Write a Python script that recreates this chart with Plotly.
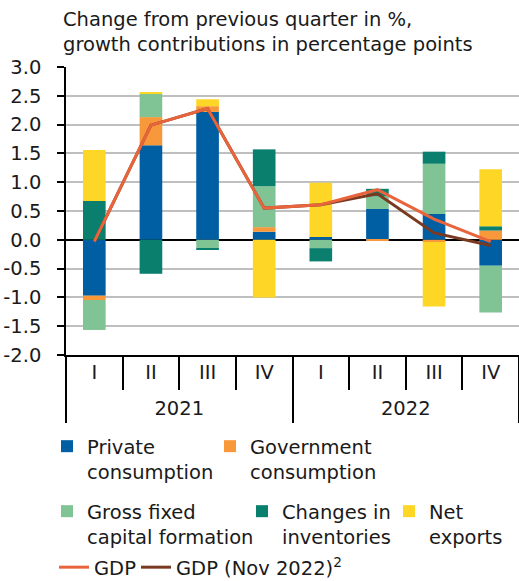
import plotly.graph_objects as go

years = ["2021"] * 4 + ["2022"] * 4
quarters = ["I", "II", "III", "IV"] * 2

private_consumption = [-0.97, 1.64, 2.22, 0.14, 0.05, 0.535, 0.45, -0.45]
government_consumption = [-0.075, 0.49, 0.10, 0.08, 0.0, -0.02, -0.04, 0.16]
gross_fixed_capital = [-0.52, 0.41, -0.145, 0.71, -0.145, 0.22, 0.87, -0.81]
changes_inventories = [0.675, -0.59, -0.02, 0.64, -0.23, 0.13, 0.21, 0.075]
net_exports = [0.885, 0.02, 0.12, -1.0, 0.94, 0.0, -1.12, 0.99]

gdp = [-0.03, 1.99, 2.28, 0.55, 0.61, 0.87, 0.36, -0.03]
gdp_nov2022 = [-0.03, 1.99, 2.28, 0.55, 0.61, 0.80, 0.12, -0.10]

y_ticks = [-2.0, -1.5, -1.0, -0.5, 0.0, 0.5, 1.0, 1.5, 2.0, 2.5, 3.0]
y_tick_labels = [f"{v:.1f}" for v in y_ticks]

FONT = "DejaVu Sans"
FS = 19.5
TXT = "#1a1a1a"

idx = list(range(len(quarters)))
uniq_years = sorted(set(years))
year_centers = [sum(i for i, y in enumerate(years) if y == yr) / years.count(yr) for yr in uniq_years]
year_bounds = [-0.5] + [max(i for i, y in enumerate(years) if y == yr) + 0.5 for yr in uniq_years]
quarter_bounds = [i + 0.5 for i in idx[:-1] if years[i] == years[i + 1]]

bar_series = [
    ("Private<br>consumption", private_consumption, "#005EA3", "legend"),
    ("Government<br>consumption", government_consumption, "#F7993A", "legend2"),
    ("Gross fixed<br>capital formation", gross_fixed_capital, "#80C394", "legend3"),
    ("Changes in<br>inventories", changes_inventories, "#0A7F6D", "legend4"),
    ("Net<br>exports", net_exports, "#FED625", "legend5"),
]

fig = go.Figure()
for name, vals, color, lg in bar_series:
    fig.add_trace(go.Bar(x=idx, y=vals, name=name, marker=dict(color=color, line=dict(width=0)),
                         width=0.4, legend=lg))

fig.add_trace(go.Scatter(x=idx, y=gdp_nov2022, name="GDP (Nov 2022)<sup>2</sup>", mode="lines",
                         line=dict(color="#7A3A22", width=3), legend="legend7"))
fig.add_trace(go.Scatter(x=idx, y=gdp, name="GDP", mode="lines",
                         line=dict(color="#E8643C", width=3), legend="legend6"))
# helper trace so the year axis is drawn
fig.add_trace(go.Scatter(x=year_centers, y=[None] * len(year_centers), xaxis="x2", yaxis="y",
                         showlegend=False, hoverinfo="skip", mode="lines"))

W, H = 519, 581


def leg(xp, yp):
    return dict(x=xp / W, y=1 - yp / H, xref="container", yref="container",
                xanchor="left", yanchor="top", bgcolor="rgba(0,0,0,0)",
                font=dict(family=FONT, size=FS, color=TXT), valign="top",
                orientation="h", borderwidth=0)


fig.update_layout(
    width=W, height=H,
    margin=dict(l=66, r=0, t=67, b=226),
    barmode="relative",
    plot_bgcolor="white", paper_bgcolor="white",
    font=dict(family=FONT, size=FS, color=TXT),
    showlegend=True,
    legend=leg(47, 427),
    legend2=leg(210, 427),
    legend3=leg(47, 492),
    legend4=leg(242, 492),
    legend5=leg(389, 492),
    legend6=leg(54, 548),
    legend7=leg(136, 548),
    annotations=[dict(
        text="Change from previous quarter in %,<br>growth contributions in percentage points",
        xref="paper", yref="paper", x=(61 - 66) / 453, y=(355 - 6) / 288, xanchor="left", yanchor="top",
        align="left", showarrow=False, font=dict(family=FONT, size=FS, color=TXT))],
)

fig.update_yaxes(
    range=[-2, 3], tickmode="array", tickvals=y_ticks, ticktext=y_tick_labels,
    showgrid=True, gridcolor="#BFBFBF", gridwidth=1.5,
    zeroline=True, zerolinecolor="black", zerolinewidth=1.5,
    showline=True, linecolor="black", linewidth=1.5,
    ticks="outside", ticklen=7, tickcolor="black", tickwidth=1.5,
    ticklabelstandoff=12, automargin=False,
    tickfont=dict(family=FONT, size=FS, color=TXT),
)
fig.update_layout(
    xaxis=dict(
        range=[-0.5, len(idx) - 0.5], tickmode="array", tickvals=idx, ticktext=quarters,
        ticks="", showline=True, linecolor="black", linewidth=1.5,
        showgrid=False, zeroline=False, automargin=False, ticklabelstandoff=-1,
        tickfont=dict(family=FONT, size=FS, color=TXT),
        minor=dict(tickmode="array", tickvals=quarter_bounds, ticks="outside", ticklen=33,
                   tickcolor="black", tickwidth=1.5, showgrid=False),
    ),
    xaxis2=dict(
        overlaying="x", side="bottom", anchor="y", matches="x",
        range=[-0.5, len(idx) - 0.5], tickmode="array", tickvals=year_centers, ticktext=uniq_years,
        ticks="", showline=False, showgrid=False, zeroline=False, automargin=False,
        ticklabelstandoff=39,
        tickfont=dict(family=FONT, size=FS, color=TXT),
        minor=dict(tickmode="array", tickvals=year_bounds, ticks="outside", ticklen=67,
                   tickcolor="black", tickwidth=1.5, showgrid=False),
    ),
)

fig.write_html("out.html")
